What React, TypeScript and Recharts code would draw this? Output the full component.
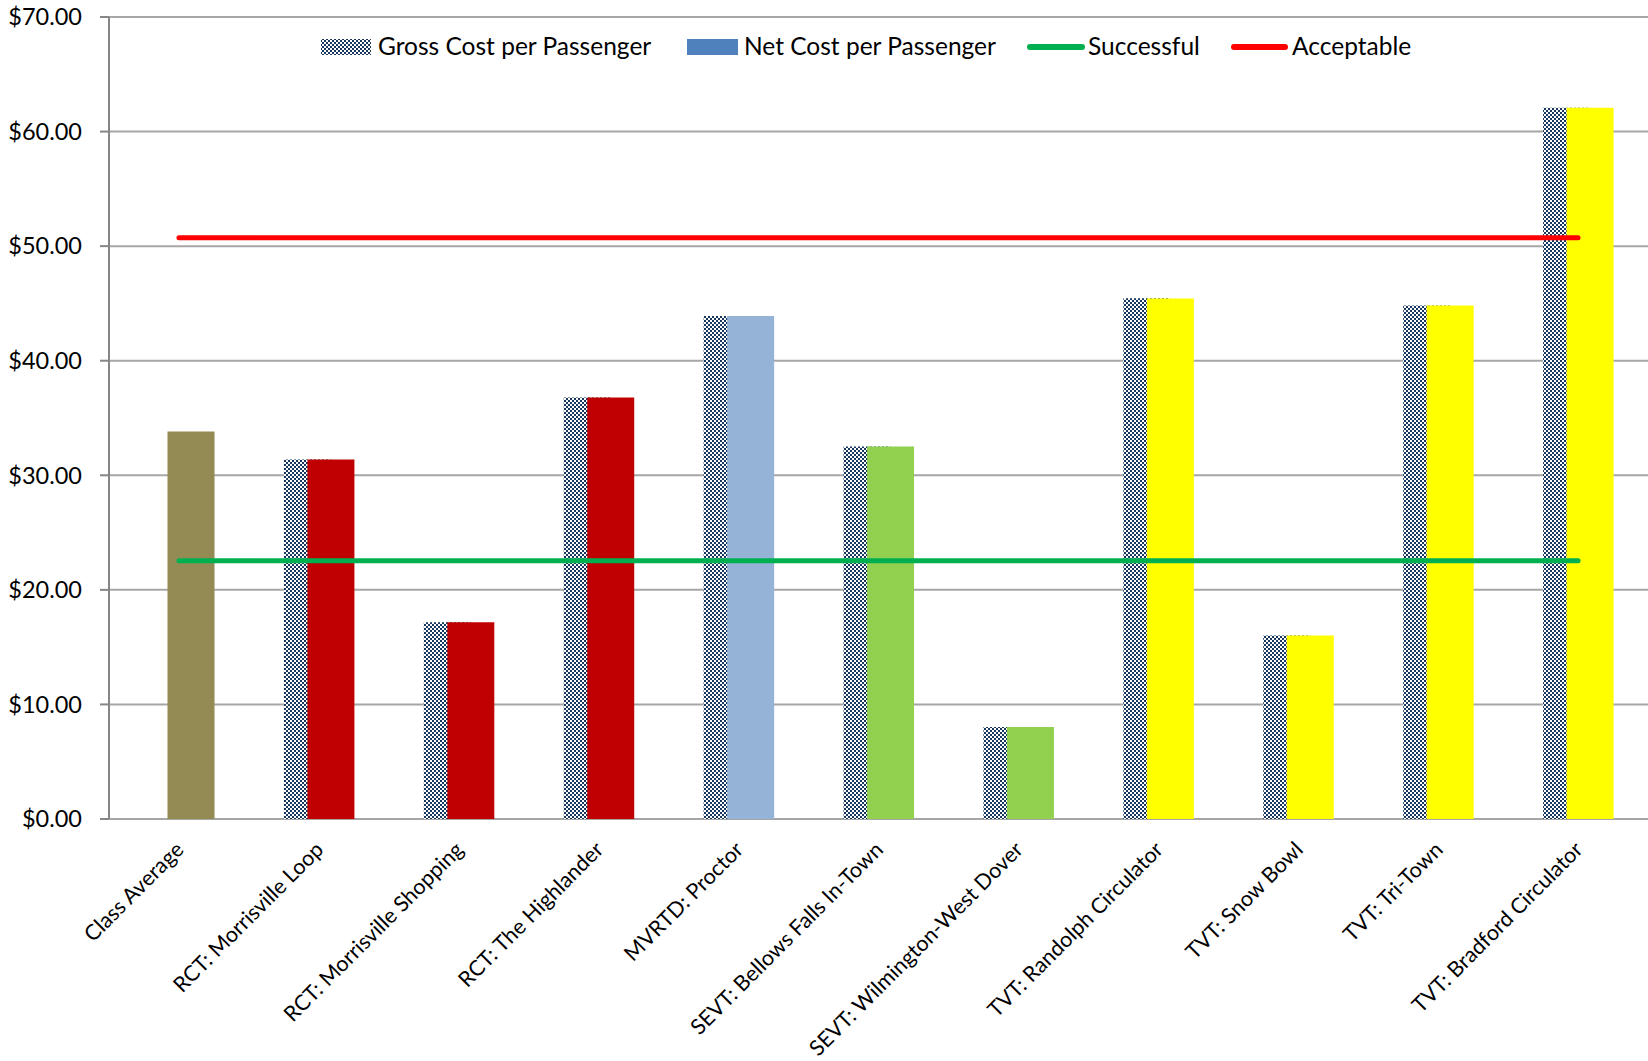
import React from 'react';
import { ComposedChart, Bar, XAxis, YAxis, CartesianGrid, ReferenceLine, Cell } from 'recharts';

// Routes in the class, in display order
const CATEGORIES = [
  'Class Average',
  'RCT: Morrisville Loop',
  'RCT: Morrisville Shopping',
  'RCT: The Highlander',
  'MVRTD: Proctor',
  'SEVT: Bellows Falls In-Town',
  'SEVT: Wilmington-West Dover',
  'TVT: Randolph Circulator',
  'TVT: Snow Bowl',
  'TVT: Tri-Town',
  'TVT: Bradford Circulator',
];

// Cost per passenger ($)
const GROSS_COST: (number | null)[] = [null, 31.38, 17.17, 36.79, 43.9, 32.52, 8.02, 45.45, 16.01, 44.81, 62.07];
const NET_COST = [33.82, 31.38, 17.17, 36.79, 43.9, 32.52, 8.02, 45.42, 16.01, 44.81, 62.07];

// Net bar colour per provider
const NET_COLORS = [
  '#948A54', '#C00000', '#C00000', '#C00000', '#95B3D7',
  '#92D050', '#92D050', '#FFFF00', '#FFFF00', '#FFFF00', '#FFFF00',
];

const Y_TICKS = [0, 10, 20, 30, 40, 50, 60, 70];

// Performance standards ($ per passenger)
const SUCCESSFUL = 22.55;
const ACCEPTABLE = 50.74;

const rows = CATEGORIES.map((category, i) => ({
  category,
  gross: GROSS_COST[i],
  net: NET_COST[i],
}));

// tick marks sit on the category boundaries
const EDGE_TICKS = Array.from({ length: CATEGORIES.length + 1 }, (_, i) => i);

const FONT = 'Lato';
const TICK_SIZE = 23.5;
const CAT_SIZE = 21.5;
const LEGEND_SIZE = 24.5;

const CategoryTick = (props: any) => {
  const { x, y, payload } = props;
  const ax = x + 6;
  const ay = y + 26;
  return (
    <text
      x={ax}
      y={ay}
      transform={`rotate(-45 ${ax} ${ay})`}
      textAnchor="end"
      fontSize={CAT_SIZE}
      fontFamily={FONT}
      fill="#000"
    >
      {payload.value}
    </text>
  );
};

const money = (v: number) => `$${v.toFixed(2)}`;

const Legend = () => (
  <svg width={1648} height={80} style={{ position: 'absolute', left: 0, top: 0, pointerEvents: 'none' }}>
    <rect x={321} y={39} width={50} height={16} fill="url(#checker)" />
    <text x={378} y={55} fontSize={LEGEND_SIZE} fontFamily={FONT} fill="#000">Gross Cost per Passenger</text>
    <rect x={687} y={39} width={51} height={16} fill="#4F81BD" />
    <text x={744} y={55} fontSize={LEGEND_SIZE} fontFamily={FONT} fill="#000">Net Cost per Passenger</text>
    <line x1={1030} y1={47} x2={1082} y2={47} stroke="#00B050" strokeWidth={6} strokeLinecap="round" />
    <text x={1088} y={55} fontSize={LEGEND_SIZE} fontFamily={FONT} fill="#000">Successful</text>
    <line x1={1234} y1={47} x2={1285} y2={47} stroke="#FF0000" strokeWidth={6} strokeLinecap="round" />
    <text x={1292} y={55} fontSize={LEGEND_SIZE} fontFamily={FONT} fill="#000">Acceptable</text>
  </svg>
);

export default function App() {
  const first = CATEGORIES[0];
  const last = CATEGORIES[CATEGORIES.length - 1];
  return (
    <div style={{ position: 'absolute', left: 0, top: 0, width: 1648, height: 1061, background: '#fff' }}>
      <svg width={0} height={0} style={{ position: 'absolute' }}>
        <defs>
          <pattern id="checker" width={4} height={4} patternUnits="userSpaceOnUse">
            <rect x={0} y={0} width={4} height={4} fill="#fff" />
            <rect x={0} y={0} width={2} height={2} fill="#17375E" />
            <rect x={2} y={2} width={2} height={2} fill="#17375E" />
          </pattern>
        </defs>
      </svg>
      <ComposedChart
        width={1648}
        height={1061}
        data={rows}
        margin={{ top: 17, right: 0, bottom: 0, left: 0 }}
        barSize={47}
        barGap={-23.5}
      >
        <CartesianGrid vertical={false} stroke="#A6A6A6" strokeWidth={2} />
        <XAxis
          xAxisId="edges"
          type="number"
          domain={[0, CATEGORIES.length]}
          ticks={EDGE_TICKS}
          tick={false}
          tickSize={9}
          height={0}
          allowDataOverflow
          stroke="#868686"
          strokeWidth={2}
        />
        <XAxis
          xAxisId="cat"
          dataKey="category"
          type="category"
          height={242}
          axisLine={false}
          tickLine={false}
          interval={0}
          tickMargin={0}
          tick={<CategoryTick />}
        />
        <YAxis
          domain={[0, 70]}
          ticks={Y_TICKS}
          tickFormatter={money}
          width={109}
          tickSize={9}
          tickMargin={18}
          stroke="#868686"
          strokeWidth={2}
          tick={{ fill: '#000', fontSize: TICK_SIZE, fontFamily: FONT }}
          interval={0}
        />
        <Bar xAxisId="cat" dataKey="gross" fill="url(#checker)" isAnimationActive={false} />
        <Bar xAxisId="cat" dataKey="net" isAnimationActive={false}>
          {rows.map((r, i) => (
            <Cell key={r.category} fill={NET_COLORS[i]} />
          ))}
        </Bar>
        <ReferenceLine
          xAxisId="cat"
          segment={[{ x: first, y: SUCCESSFUL }, { x: last, y: SUCCESSFUL }]}
          stroke="#00B050"
          strokeWidth={5}
          strokeLinecap="round"
        />
        <ReferenceLine
          xAxisId="cat"
          segment={[{ x: first, y: ACCEPTABLE }, { x: last, y: ACCEPTABLE }]}
          stroke="#FF0000"
          strokeWidth={5}
          strokeLinecap="round"
        />
      </ComposedChart>
      <Legend />
    </div>
  );
}
